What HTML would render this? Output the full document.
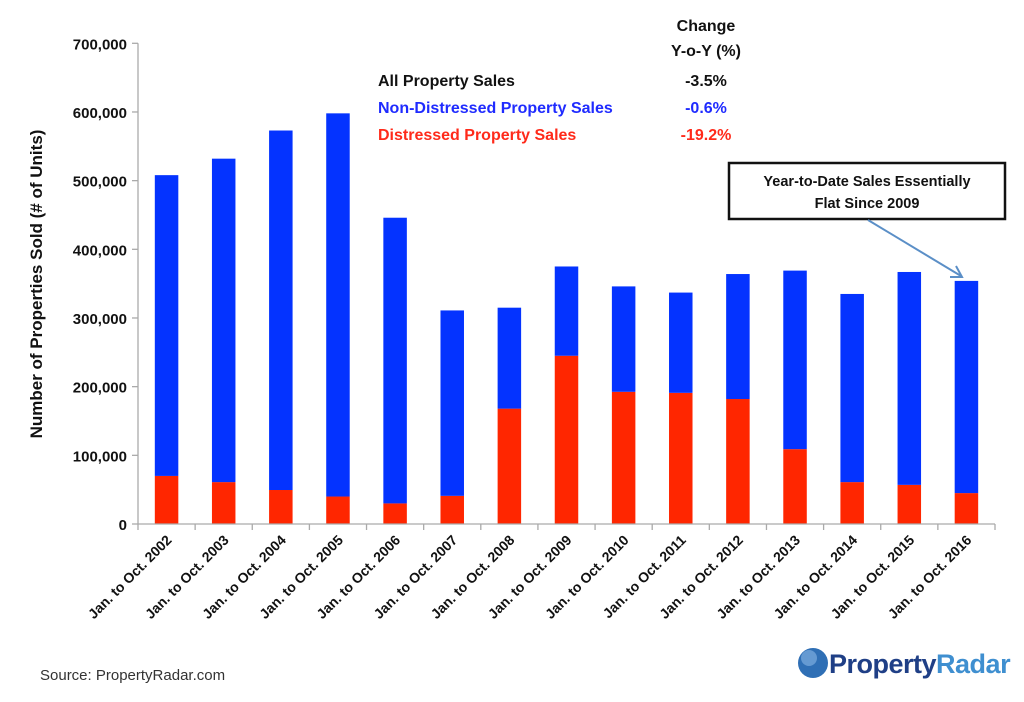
<!DOCTYPE html>
<html><head><meta charset="utf-8"><style>
html,body{margin:0;padding:0;background:#fff;}
svg text{font-family:"Liberation Sans","DejaVu Sans",sans-serif;}
</style></head><body>
<svg id="chart" width="1024" height="697" viewBox="0 0 1024 697" xmlns="http://www.w3.org/2000/svg">
<rect width="1024" height="697" fill="#fff"/>
<g id="grid"></g>
<g id="bars"></g>
<g id="axes"></g>
<text transform="translate(42,284) rotate(-90)" text-anchor="middle" font-size="17" font-weight="bold" fill="#111">Number of Properties Sold (# of Units)</text>
<g font-weight="bold" font-size="16">
<text x="706" y="31" text-anchor="middle" fill="#111">Change</text>
<text x="706" y="56" text-anchor="middle" fill="#111">Y-o-Y (%)</text>
<text x="378" y="86" fill="#111">All Property Sales</text>
<text x="706" y="86" text-anchor="middle" fill="#111">-3.5%</text>
<text x="378" y="113" fill="#1f2bff">Non-Distressed Property Sales</text>
<text x="706" y="113" text-anchor="middle" fill="#1f2bff">-0.6%</text>
<text x="378" y="140" fill="#ff2a1a">Distressed Property Sales</text>
<text x="706" y="140" text-anchor="middle" fill="#ff2a1a">-19.2%</text>
</g>
<g>
<rect x="729" y="163" width="276" height="56" fill="#fff" stroke="#111" stroke-width="2.5"/>
<text x="867" y="186" text-anchor="middle" font-size="14.5" font-weight="bold" fill="#111">Year-to-Date Sales Essentially</text>
<text x="867" y="208" text-anchor="middle" font-size="14.5" font-weight="bold" fill="#111">Flat Since 2009</text>
<line x1="868" y1="220" x2="961" y2="276" stroke="#5b8fc7" stroke-width="2"/>
<polyline points="950,277 962,277 956,266" fill="none" stroke="#5b8fc7" stroke-width="2"/>
</g>
<text x="40" y="680" font-size="15" fill="#333">Source: PropertyRadar.com</text>
<g>
<circle cx="813" cy="663" r="15" fill="#2f6fb5"/>
<circle cx="809" cy="658" r="8" fill="#8ab8e6" opacity="0.6"/>
<text x="829" y="673" font-size="27" font-weight="bold" fill="#1f3f86" letter-spacing="-0.5">Property<tspan fill="#3f8fd0">Radar</tspan></text>
</g>
</svg>
<script>
const categories = ["Jan. to Oct. 2002","Jan. to Oct. 2003","Jan. to Oct. 2004","Jan. to Oct. 2005","Jan. to Oct. 2006","Jan. to Oct. 2007","Jan. to Oct. 2008","Jan. to Oct. 2009","Jan. to Oct. 2010","Jan. to Oct. 2011","Jan. to Oct. 2012","Jan. to Oct. 2013","Jan. to Oct. 2014","Jan. to Oct. 2015","Jan. to Oct. 2016"];
const distressed = [70000,61000,49500,40000,30000,41000,168000,245000,192500,191000,182000,109000,61000,57000,45000];
const nonDistressed = [438000,471000,523500,558000,416000,270000,147000,130000,153500,146000,182000,260000,274000,310000,309000];
const yTicks = [0,100000,200000,300000,400000,500000,600000,700000];
const yTickLabels = ["0","100,000","200,000","300,000","400,000","500,000","600,000","700,000"];

const NS = "http://www.w3.org/2000/svg";
const x0 = 138, x1 = 995, yBase = 524, yTop = 43.3, yMax = 700000;
const band = (x1 - x0) / categories.length;
function yScale(v){ return yBase - (v / yMax) * (yBase - yTop); }
function xCenter(i){ return x0 + band * (i + 0.5); }
function mk(tag, attrs, parent){ const e = document.createElementNS(NS, tag); for (const k in attrs) e.setAttribute(k, attrs[k]); parent.appendChild(e); return e; }

const axes = document.getElementById('axes');
const bars = document.getElementById('bars');
const yAxis = mk('line', {x1:x0, y1:yTop, x2:x0, y2:yBase, stroke:'#aaa', 'stroke-width':1.3}, axes);


const xAxis = mk('line', {x1:x0, y1:yBase, x2:x1, y2:yBase, stroke:'#aaa', 'stroke-width':1.3}, axes);



yTicks.forEach((t, i) => {
  const y = yScale(t);
  const tk = mk('line', {x1:x0-6, y1:y, x2:x0, y2:y, stroke:'#aaa', 'stroke-width':1.3}, axes);
  
  
  const lb = mk('text', {x:x0-11, y:y+6, 'text-anchor':'end', 'font-size':15, 'font-weight':'bold', fill:'#111'}, axes);
  lb.textContent = yTickLabels[i];
  
  
});

for (let i = 0; i <= categories.length; i++) {
  const x = x0 + band * i;
  const tk = mk('line', {x1:x, y1:yBase, x2:x, y2:yBase+6, stroke:'#aaa', 'stroke-width':1.3}, axes);
  
  
}

const bw = 23.5;
categories.forEach((c, i) => {
  const cx = xCenter(i);
  const d = distressed[i], n = nonDistressed[i];
  const rd = mk('rect', {x:cx-bw/2, y:yScale(d), width:bw, height:yBase-yScale(d), fill:'#ff2600'}, bars);
  
  
  const rn = mk('rect', {x:cx-bw/2, y:yScale(d+n), width:bw, height:yScale(d)-yScale(d+n), fill:'#0433ff'}, bars);
  
  
  const lx = cx + 6, ly = 541;
  const lb = mk('text', {x:lx, y:ly, 'text-anchor':'end', 'font-size':14, 'font-weight':'bold', fill:'#111', transform:`rotate(-45 ${lx} ${ly})`}, axes);
  lb.textContent = c;
  
  
});
</script>
</body></html>
